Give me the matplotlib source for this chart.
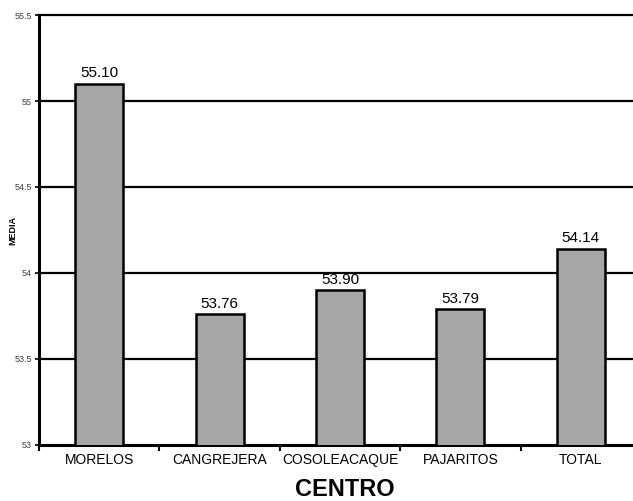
import matplotlib
matplotlib.use('Agg')
import matplotlib.pyplot as plt
import numpy as np

plt.rcParams['font.family'] = ['Liberation Sans', 'DejaVu Sans']

# Data
categories = ['MORELOS', 'CANGREJERA', 'COSOLEACAQUE', 'PAJARITOS', 'TOTAL']
values = [55.10, 53.76, 53.90, 53.79, 54.14]
y_ticks = [53, 53.5, 54, 54.5, 55, 55.5]
y_tick_labels = ['53', '53.5', '54', '54.5', '55', '55.5']

fig = plt.figure(figsize=(6.33, 5.01), dpi=100)
ax = fig.add_axes([0.0616, 0.112, 0.951, 0.858])

x = np.arange(len(categories))
bars = ax.bar(x, values, width=0.40, bottom=0, color='#a6a6a6',
              edgecolor='black', linewidth=1.8, zorder=3)

ax.set_ylim(53, 55.5)
ax.set_xlim(-0.5, len(categories) - 0.5)

# Horizontal gridlines
for yv in y_ticks[1:]:
    ax.axhline(yv, color='black', linewidth=1.6, zorder=1, clip_on=False)

# Value labels
for xi, val in zip(x, values):
    ax.text(xi, val + 0.02, f'{val:.2f}', ha='center', va='bottom',
            fontsize=11, color='black', zorder=4)

# Axes styling
ax.spines['top'].set_visible(False)
ax.spines['right'].set_visible(False)
ax.spines['left'].set_linewidth(2.2)
ax.spines['bottom'].set_linewidth(2.2)

ax.set_yticks(y_ticks)
ax.set_yticklabels(y_tick_labels, fontsize=6.5, color='#404040')
ax.tick_params(axis='y', length=3, width=1.2, pad=2)

ax.set_xticks(x)
ax.set_xticklabels(categories, fontsize=10)
ax.tick_params(axis='x', which='major', length=0, pad=6)
ax.set_xticks(np.arange(-0.5, len(categories), 1.0), minor=True)
ax.tick_params(axis='x', which='minor', length=4, width=1.5)

fig.text(345 / 633, 0.009, 'CENTRO', fontsize=17, fontweight='bold',
         ha='center', va='baseline')

fig.text(0.020, 0.539, 'MEDIA', rotation=90, fontsize=6.5, fontweight='bold',
         ha='center', va='center')

plt.savefig('out.png', dpi=100, facecolor='white')
plt.close()
